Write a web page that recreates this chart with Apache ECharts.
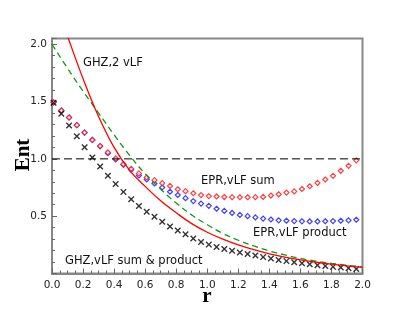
<!DOCTYPE html>
<html><head><meta charset="utf-8">
<script src="https://cdn.jsdelivr.net/npm/echarts@6/dist/echarts.min.js"></script>
<style>html,body{margin:0;padding:0;background:#fff}#c{width:415px;height:313px}</style>
</head><body><div id="c"></div>
<script>
// marker abscissae (r)
const markerR = [0.01,0.06,0.11,0.16,0.21,0.26,0.31,0.36,0.41,0.46,0.51,0.56,0.61,0.66,0.71,0.76,0.81,0.86,0.91,0.96,
                 1.01,1.06,1.11,1.16,1.21,1.26,1.31,1.36,1.41,1.46,1.51,1.56,1.61,1.66,1.71,1.76,1.81,1.86,1.91,1.96];
// EPR, vLF sum (red diamonds)
const eprSum = [1.493,1.422,1.361,1.294,1.229,1.165,1.112,1.057,1.004,0.954,0.913,0.873,0.838,0.814,0.788,0.764,0.735,0.718,0.700,0.684,
                0.675,0.672,0.667,0.666,0.665,0.665,0.666,0.668,0.680,0.691,0.706,0.716,0.737,0.761,0.790,0.820,0.852,0.896,0.939,0.987];
// EPR, vLF product (blue diamonds)
const eprProduct = [1.493,1.422,1.361,1.294,1.229,1.165,1.110,1.050,0.995,0.948,0.904,0.855,0.820,0.785,0.750,0.713,0.685,0.657,0.632,0.610,
                    0.590,0.565,0.546,0.528,0.511,0.500,0.489,0.479,0.471,0.464,0.460,0.457,0.455,0.454,0.454,0.456,0.457,0.460,0.464,0.469];
// GHZ, vLF sum & product (black crosses)
const ghzSumProduct = [1.490,1.393,1.291,1.198,1.101,1.012,0.933,0.853,0.781,0.712,0.647,0.589,0.539,0.495,0.451,0.410,0.375,0.342,0.305,0.275,
                       0.252,0.232,0.214,0.199,0.183,0.170,0.157,0.143,0.130,0.118,0.108,0.098,0.089,0.080,0.072,0.065,0.058,0.052,0.046,0.040];
// curves sampled at r
const lineR = [0,0.1,0.2,0.3,0.4,0.5,0.6,0.7,0.8,0.9,1.0,1.1,1.2,1.3,1.4,1.5,1.6,1.7,1.8,1.9,2.0];
// GHZ, 2 vLF (red solid)
const ghz2 = [2.45,2.07,1.70,1.37,1.10,0.90,0.76,0.635,0.53,0.435,0.36,0.30,0.25,0.208,0.172,0.143,0.119,0.098,0.081,0.066,0.054];
// green dashed curve
const greenCurve = [2.00,1.79,1.59,1.40,1.21,1.03,0.87,0.735,0.615,0.51,0.425,0.35,0.29,0.24,0.197,0.162,0.132,0.108,0.088,0.072,0.058];
// reference level
const refLevel = 1.0;

const pair = (xs, ys) => xs.map((x, i) => [x, ys[i]]);
const chart = echarts.init(document.getElementById('c'), null, {renderer: 'canvas'});
const lab = {fontFamily: 'DejaVu Sans', fontSize: 10.5, color: '#222'};
const crossPath = 'path://M1.5,0L5,3.5L8.5,0L10,1.5L6.5,5L10,8.5L8.5,10L5,6.5L1.5,10L0,8.5L3.5,5L0,1.5Z';
const annot = (x, y, t) => ({type: 'text', x: x, y: y, style: {text: t, font: '11.5px "DejaVu Sans"', fill: '#111', textVerticalAlign: 'middle'}});

chart.setOption({
  animation: false,
  backgroundColor: '#fff',
  grid: {left: 52, right: 52.5, top: 38.5, bottom: 39.5, show: true, borderColor: '#888', borderWidth: 2, containLabel: false},
  xAxis: {
    type: 'value', min: 0, max: 2, interval: 0.2,
    axisLine: {show: true, onZero: false, lineStyle: {color: '#888', width: 2}},
    axisTick: {show: true, inside: true, length: 5, lineStyle: {color: '#666'}},
    minorTick: {show: true, splitNumber: 4, length: 3, lineStyle: {color: '#666'}},
    splitLine: {show: false},
    axisLabel: Object.assign({margin: 6, formatter: v => v.toFixed(1)}, lab)
  },
  yAxis: {
    type: 'value', min: 0, max: 2.05, interval: 0.5,
    axisLine: {show: true, onZero: false, lineStyle: {color: '#888', width: 2}},
    axisTick: {show: true, inside: true, length: 5, lineStyle: {color: '#666'}},
    minorTick: {show: true, splitNumber: 5, length: 3, lineStyle: {color: '#666'}},
    splitLine: {show: false},
    axisLabel: Object.assign({margin: 5, showMinLabel: false, showMaxLabel: false, formatter: v => v.toFixed(1)}, lab)
  },
  series: [
    {type: 'line', data: [[0, refLevel], [2, refLevel]], symbol: 'none', silent: true,
     lineStyle: {color: '#000', width: 1, type: [8, 4]}},
    {type: 'line', data: pair(lineR, greenCurve), symbol: 'none', smooth: 0.4,
     lineStyle: {color: '#109a10', width: 1.3, type: [6, 4]}},
    {type: 'line', data: pair(lineR, ghz2), symbol: 'none', smooth: 0.4, clip: true,
     lineStyle: {color: '#ff0000', width: 1.3}},
    {type: 'scatter', data: pair(markerR, eprProduct), symbol: 'diamond', symbolSize: 5,
     itemStyle: {color: '#fff', borderColor: '#1010ff', borderWidth: 1.2}},
    {type: 'scatter', data: pair(markerR, eprSum), symbol: 'diamond', symbolSize: 5,
     itemStyle: {color: '#fff', borderColor: '#ff1010', borderWidth: 1.2}},
    {type: 'scatter', data: pair(markerR, ghzSumProduct), symbol: crossPath, symbolSize: 6.5,
     itemStyle: {color: '#000'}}
  ],
  graphic: [
    annot(83, 63, 'GHZ,2 vLF'),
    annot(201, 181, 'EPR,vLF sum'),
    annot(253, 233, 'EPR,vLF product'),
    annot(65, 261.5, 'GHZ,vLF sum & product'),
    {type: 'text', x: 24, y: 155, rotation: Math.PI / 2,
     style: {text: 'Ent', font: 'bold 21px "Liberation Serif"', fill: '#000', textAlign: 'center', textVerticalAlign: 'middle'}},
    {type: 'text', x: 207, y: 297,
     style: {text: 'r', font: 'bold 21px "Liberation Serif"', fill: '#000', textAlign: 'center', textVerticalAlign: 'middle'}}
  ]
});
</script></body></html>
